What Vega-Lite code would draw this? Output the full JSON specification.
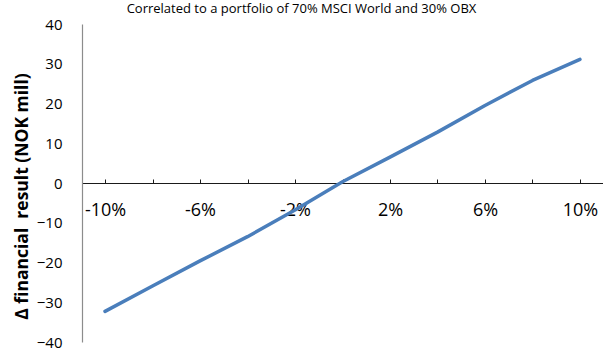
{
  "$schema": "https://vega.github.io/schema/vega-lite/v6.json",
  "width": 521,
  "height": 318,
  "autosize": {"type": "none"},
  "padding": {"left": 82, "top": 24, "right": 0, "bottom": 9},
  "background": "white",
  "config": {
    "view": {"stroke": null},
    "font": "Open Sans"
  },
  "title": {
    "text": "Correlated to a portfolio of 70% MSCI World and 30% OBX",
    "fontSize": 13,
    "fontWeight": "normal",
    "font": "Open Sans",
    "color": "#000000",
    "baseline": "alphabetic",
    "offset": 0,
    "anchor": "middle",
    "dx": -41,
    "dy": 9
  },
  "data": {
    "values": [
      {"change": -10, "result": -32.3},
      {"change": -8, "result": -25.9},
      {"change": -6, "result": -19.6},
      {"change": -4, "result": -13.5},
      {"change": -2, "result": -6.8},
      {"change": 0, "result": 0.3},
      {"change": 2, "result": 6.5},
      {"change": 4, "result": 12.8},
      {"change": 6, "result": 19.5},
      {"change": 8, "result": 25.8},
      {"change": 10, "result": 31.1}
    ]
  },
  "mark": {"type": "line", "color": "#4a7ebb", "strokeWidth": 3.5, "strokeCap": "round", "strokeJoin": "round"},
  "encoding": {
    "x": {
      "field": "change",
      "type": "quantitative",
      "scale": {"domain": [-10.97, 10.97], "nice": false, "zero": false},
      "axis": {
        "orient": "bottom",
        "offset": -159,
        "values": [-10, -8, -6, -4, -2, 0, 2, 4, 6, 8, 10],
        "labelExpr": "(datum.value + 10) % 4 == 0 ? datum.value + '%' : ''",
        "title": null,
        "grid": false,
        "domainColor": "#1a1a1a",
        "domainWidth": 1,
        "tickColor": "#1a1a1a",
        "tickSize": -4,
        "labelFontSize": 18,
        "labelColor": "#000000",
        "labelFont": "Open Sans",
        "labelPadding": 22,
        "labelBaseline": "top",
        "labelFlush": false,
        "labelOverlap": false
      }
    },
    "y": {
      "field": "result",
      "type": "quantitative",
      "scale": {"domain": [-40, 40], "nice": false},
      "axis": {
        "values": [-40, -30, -20, -10, 0, 10, 20, 30, 40],
        "labelExpr": "datum.value >= 0 ? datum.label + '\u2007' : datum.label",
        "title": "Δ financial\u00a0 result (NOK mill)",
        "titleFontSize": 17.5,
        "titleFont": "Open Sans",
        "titleFontWeight": "bold",
        "titleColor": "#000000",
        "titleX": -60,
        "titleY": 172,
        "titleBaseline": "middle",
        "titleAngle": -90,
        "grid": false,
        "ticks": false,
        "domainColor": "#8c8c8c",
        "domainWidth": 1.2,
        "labelFontSize": 15,
        "labelColor": "#000000",
        "labelFont": "Open Sans",
        "labelPadding": 20,
        "labelFlush": false,
        "labelOverlap": false
      }
    }
  }
}
